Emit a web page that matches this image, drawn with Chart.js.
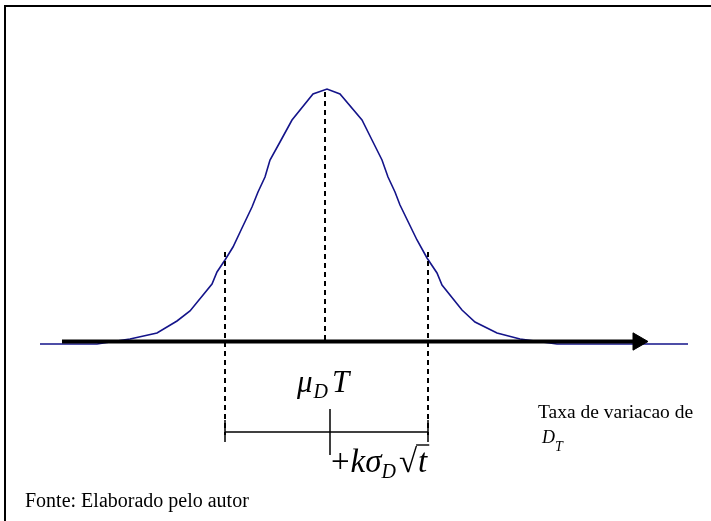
<!DOCTYPE html>
<html>
<head>
<meta charset="utf-8">
<title>Distribuicao normal</title>
<script src="https://cdn.jsdelivr.net/npm/chart.js"></script>
<style>
  body { margin: 0; background: #fff; }
  #frame { position: absolute; left: 4px; top: 5px; right: 0; bottom: 0; border-top: 2px solid #000; border-left: 2px solid #000; }
  #box { position: absolute; left: 0; top: 0; width: 711px; height: 521px; }
</style>
</head>
<body>
<div id="frame"></div>
<div id="box"><canvas id="c"></canvas></div>
<script>
// bell curve: position and height above baseline
const curveX = [40, 97, 130, 157, 177, 190, 212, 217, 225, 233, 242, 252, 258, 265, 270, 280, 292, 313, 327, 340, 362, 372, 382, 388, 395, 400, 417, 427, 437, 442, 462, 475, 497, 520, 557, 688];
const curveY = [0, 0, 5, 11, 23, 33, 60, 72, 84, 97, 116, 137, 152, 167, 184, 202, 224, 250, 255, 250, 224, 204, 184, 167, 152, 139, 104, 86, 71, 59, 34, 22, 11, 5, 0, 0];

// horizontal axis with arrow
const axisX = [62, 634];
const axisLevel = 2.5;
const arrowX = 638;

// dashed verticals: -k sigma, mean, +k sigma
const dashX = [225, 325, 428];
const dashTop = [92, 252, 92];
const dashBottom = [-91, 3, -91];

// bracket below the axis
const bracketX = [225, 428];
const bracketLevel = -88;
const tickX = [225, 330, 428];
const tickTop = [-76, -65, -76];
const tickBottom = [-98, -111, -98];

const datasets = [];

datasets.push({
    data: axisX.map(x => ({ x: x, y: axisLevel })),
    borderColor: '#000', borderWidth: 4, pointRadius: 0, order: 0
});
datasets.push({
    data: [{ x: arrowX, y: axisLevel }],
    showLine: false, pointStyle: 'triangle', rotation: 90, pointRadius: 10,
    backgroundColor: '#000', borderColor: '#000', borderWidth: 1, order: 0
});
datasets.push({
    data: curveX.map((x, i) => ({ x: x, y: curveY[i] })),
    borderColor: '#14148a', borderWidth: 1.6, pointRadius: 0, order: 5
});
dashX.forEach((x, i) => {
    datasets.push({
        data: [{ x: x, y: dashTop[i] }, { x: x, y: dashBottom[i] }],
        borderColor: '#000', borderWidth: 2, borderDash: [5, 4], pointRadius: 0, order: 2
    });
});
datasets.push({
    data: bracketX.map(x => ({ x: x, y: bracketLevel })),
    borderColor: '#000', borderWidth: 1.5, pointRadius: 0, order: 1
});
tickX.forEach((x, i) => {
    datasets.push({
        data: [{ x: x, y: tickTop[i] }, { x: x, y: tickBottom[i] }],
        borderColor: '#000', borderWidth: 1.5, pointRadius: 0, order: 1
    });
});

// write a run of pieces [text, font, dy, extra gap] left to right
function writeRun(ctx, x, y, parts) {
    parts.forEach(p => {
        ctx.font = p[1];
        ctx.fillText(p[0], x, y + (p[2] || 0));
        x += ctx.measureText(p[0]).width + (p[3] || 0);
    });
    return x;
}

const textPlugin = {
    id: 'texts',
    afterDraw(chart) {
        const ctx = chart.ctx;
        ctx.save();
        ctx.fillStyle = '#000';
        ctx.strokeStyle = '#000';
        ctx.textBaseline = 'alphabetic';
        const serif = '"Liberation Serif"';

        writeRun(ctx, 297, 392, [['\u03bc', 'italic 31px ' + serif, 0, 1], ['D', 'italic 20px ' + serif, 6, 4], ['T', 'italic 31px ' + serif]]);

        const big = 'italic 33px ' + serif;
        let x = writeRun(ctx, 331, 472, [['+', '33px ' + serif, 0, 1], ['k', big], ['\u03c3', big], ['D', 'italic 20px ' + serif, 6, 3]]);
        ctx.font = '33px ' + serif;
        ctx.fillText('\u221a', x, 472);
        const rw = ctx.measureText('\u221a').width;
        ctx.font = big;
        const tw = ctx.measureText('t').width;
        ctx.lineWidth = 1.4;
        ctx.beginPath();
        ctx.moveTo(x + rw - 1, 445);
        ctx.lineTo(x + rw + tw + 3, 445);
        ctx.stroke();
        ctx.fillText('t', x + rw + 1, 472);

        ctx.font = '19.5px ' + serif;
        ctx.fillText('Taxa de variacao de', 538, 418);
        writeRun(ctx, 542, 443, [['D', 'italic 18px ' + serif], ['T', 'italic 14px ' + serif, 8]]);

        ctx.font = '20px ' + serif;
        ctx.fillText('Fonte: Elaborado pelo autor', 25, 507);
        ctx.restore();
    }
};

new Chart(document.getElementById('c'), {
    type: 'line',
    data: { datasets: datasets },
    options: {
        responsive: true,
        maintainAspectRatio: false,
        animation: false,
        layout: { padding: 0, autoPadding: false },
        plugins: { legend: { display: false }, tooltip: { enabled: false } },
        scales: {
            x: { type: 'linear', display: false, min: 0, max: 711 },
            y: { type: 'linear', display: false, min: -177, max: 344 }
        }
    },
    plugins: [textPlugin]
});
</script>
</body>
</html>
